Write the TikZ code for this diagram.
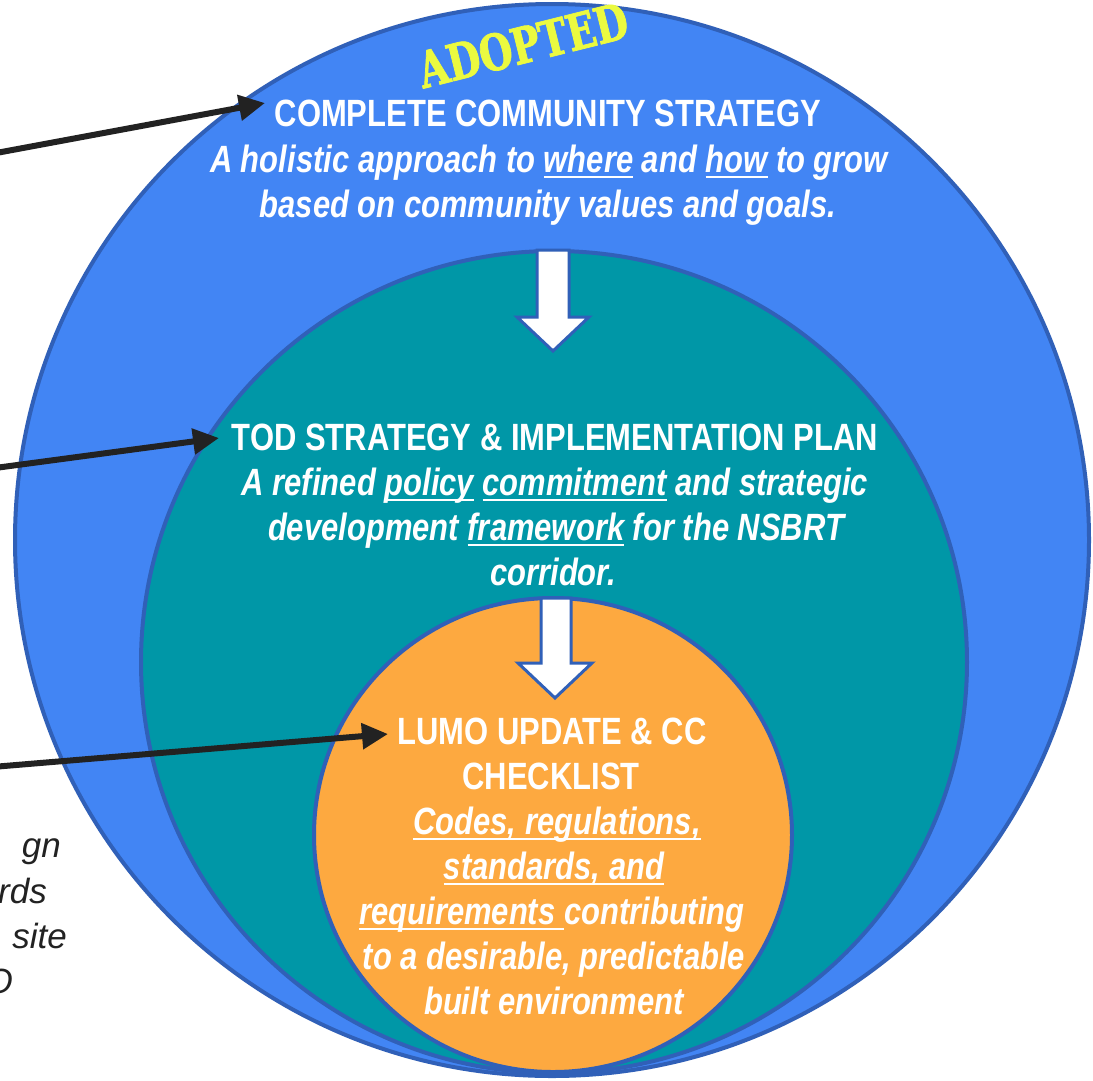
\documentclass[tikz,border=0pt]{standalone}
\usepackage{fontspec}
\setmainfont{Liberation Sans}
\newfontfamily\narrowfont{Liberation Sans}[FakeStretch=0.815]
\newfontfamily\stampfont{DejaVu Serif}[UprightFont={* Bold}, FakeStretch=0.76, FakeBold=1.5]
\newsavebox{\ulbox}
\newcommand{\myul}[1]{\sbox{\ulbox}{#1}\rlap{\rule[-6pt]{\wd\ulbox}{2.2pt}}\usebox{\ulbox}}
\usetikzlibrary{arrows.meta}
\definecolor{outerblue}{HTML}{4285F4}
\definecolor{rimblue}{HTML}{3060B8}
\definecolor{tealfill}{HTML}{0097A7}
\definecolor{orangefill}{HTML}{FDA940}
\definecolor{stampyellow}{HTML}{EBFA40}
\definecolor{inkdark}{HTML}{222222}
\tikzset{
  ring/.style={draw=rimblue, line width=4pt},
  blockarrow/.style={draw=rimblue, fill=white, line width=3pt, line join=miter},
  ttl/.style={text=white, inner sep=0pt, anchor=base, font=\narrowfont\bfseries\fontsize{38}{45}\selectfont},
  sub/.style={text=white, inner sep=0pt, anchor=base, font=\narrowfont\bfseries\itshape\fontsize{38}{45}\selectfont},
  sidetxt/.style={text=inkdark, inner sep=0pt, anchor=base east, font=\itshape\fontsize{35}{45}\selectfont},
  pointer/.style={draw=inkdark, line width=6pt, -{Triangle[length=26pt,width=25pt]}},
}
\begin{document}
\begin{tikzpicture}[x=1pt,y=-1pt]
\useasboundingbox (0,0) rectangle (1093,1080);
\clip (0,0) rectangle (1093,1080);
% circles
\fill[white] (0,0) rectangle (1093,1080);
\draw[ring, fill=outerblue] (552,540) ellipse [x radius=537, y radius=536];
\draw[ring, fill=tealfill] (554,662) ellipse [x radius=413, y radius=411];
\draw[blockarrow] (537,250) -- (569,250) -- (569,317) -- (589,317) -- (553,351) -- (517,317) -- (537,317) -- cycle;
\draw[ring, fill=orangefill] (553,835) ellipse [x radius=239, y radius=237];
\draw[blockarrow] (541,598) -- (571,598) -- (571,663) -- (592,663) -- (555,698) -- (518,663) -- (541,663) -- cycle;
% stamp
\node[text=stampyellow, rotate=14, inner sep=0pt, font=\stampfont\fontsize{50}{50}\selectfont] (stamp) at (523,45) {ADOPTED};
% outer text
\node[ttl] (ccsTitle) at (548,126) {COMPLETE COMMUNITY STRATEGY};
\node[sub] (ccsA) at (549,172) {A holistic approach to \myul{where} and \myul{how} to grow};
\node[sub] (ccsB) at (548,217) {based on community values and goals.};
% middle text
\node[ttl] (todTitle) at (555,450) {TOD STRATEGY \& IMPLEMENTATION PLAN};
\node[sub] (todA) at (555,495) {A refined \myul{policy} \myul{commitment} and strategic};
\node[sub] (todB) at (556,540) {development \myul{framework} for the NSBRT};
\node[sub] (todC) at (553,585) {corridor.};
% inner text
\node[ttl] (lumoA) at (552,744) {LUMO UPDATE \& CC};
\node[ttl] (lumoB) at (551,789) {CHECKLIST};
\node[sub] (lumoC) at (557,834) {\myul{Codes, regulations,}};
\node[sub] (lumoD) at (554,879) {\myul{standards, and}};
\node[sub] (lumoE) at (552,924) {\myul{requirements\ }contributing};
\node[sub] (lumoF) at (554,969) {to a desirable, predictable};
\node[sub] (lumoG) at (554,1014) {built environment};
% left clipped text
\node[sidetxt] (sideA) at (61,857) {gn};
\node[sidetxt] (sideB) at (47,903) {rds};
\node[sidetxt] (sideC) at (67,948) {site};
\node[sidetxt] (sideD) at (13,993) {O};
% pointers
\coordinate (fromA) at (-20,156);
\coordinate (toA) at (265,103);
\coordinate (fromB) at (-20,470);
\coordinate (toB) at (219,438);
\coordinate (fromC) at (-20,768);
\coordinate (toC) at (388,734);
\draw[pointer] (fromA) -- (toA);
\draw[pointer] (fromB) -- (toB);
\draw[pointer] (fromC) -- (toC);
\end{tikzpicture}
\end{document}
